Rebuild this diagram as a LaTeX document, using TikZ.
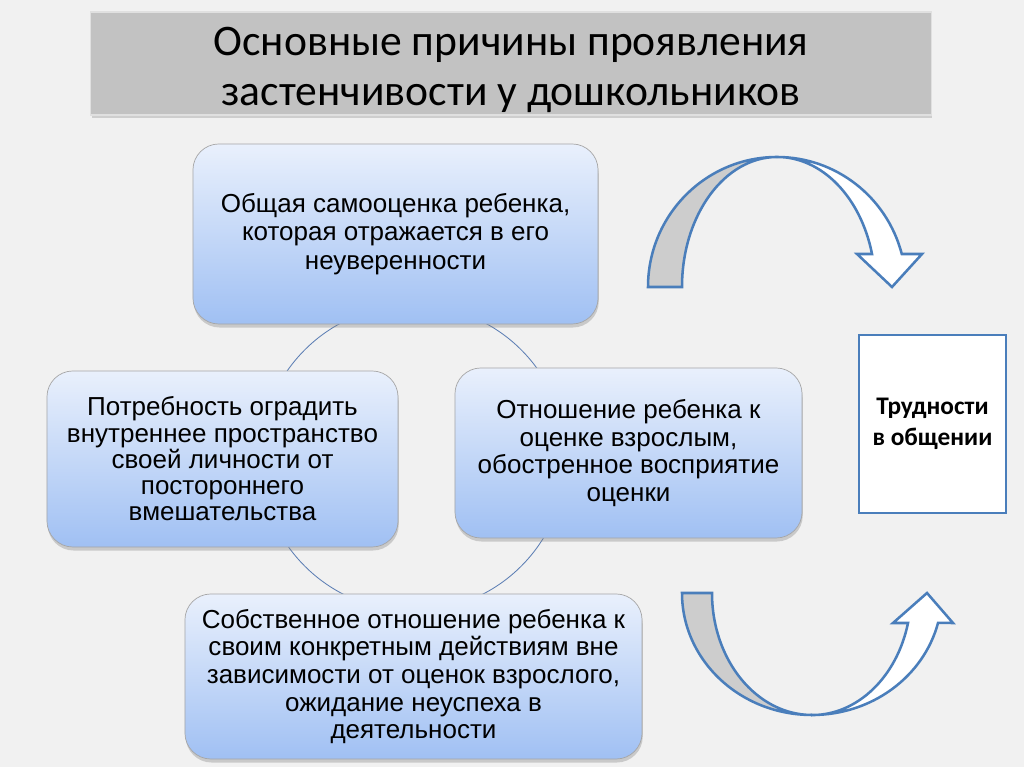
\documentclass[tikz,border=0pt]{standalone}
\usepackage{fontspec}
\setmainfont{Liberation Sans}
\newfontfamily\titlefont{Carlito}
\usepackage{xcolor}
\usepackage{tikz}
\usetikzlibrary{shadows}

\definecolor{slidebg}{RGB}{241,241,241}
\definecolor{barfill}{RGB}{194,194,194}
\definecolor{boxtop}{RGB}{233,240,252}
\definecolor{boxbottom}{RGB}{160,192,243}
\definecolor{ringblue}{RGB}{92,126,180}
\definecolor{arrowblue}{RGB}{74,126,187}
\definecolor{arrowgray}{RGB}{205,205,205}

\begin{document}
\begin{tikzpicture}[x=0.025cm,y=0.025cm,
  cause/.style={draw=black!35,line width=0.5pt,rounded corners=0.65cm,top color=boxtop,bottom color=boxbottom,align=center,inner sep=2pt,font=\fontsize{18.5}{19.6}\selectfont,drop shadow={shadow xshift=0.5pt,shadow yshift=-2.5pt,opacity=0.35}},
  titlebar/.style={fill=barfill,draw=black!12,line width=0.8pt,drop shadow={shadow xshift=0.5pt,shadow yshift=-2pt,opacity=0.3}},
  titletext/.style={align=center,font=\titlefont\fontsize{31}{35.5}\selectfont},
  resultbox/.style={draw=arrowblue,line width=1.6pt,fill=white,align=center,font=\titlefont\bfseries\fontsize{18}{22}\selectfont},
  ring/.style={draw=ringblue,line width=0.6pt},
  bendarrow/.style={draw=arrowblue,line width=1.8pt,line join=miter}]
  % background
  \fill[slidebg] (0,0) rectangle (1024,767);
  \node[titlebar,minimum width=21cm,minimum height=2.575cm] (title) at (511,703.5) {};
  \node[titletext] (titletxt) at (511,697) {Основные причины проявления\\застенчивости у дошкольников};
  % ring behind the four causes
  \coordinate (ringc) at (413,309);
  \draw[ring] (ringc) circle[radius=153];
  \node[cause,minimum width=10.125cm,minimum height=4.5cm,font=\fontsize{18.5}{20.3}\selectfont] (selfview) at (395.5,533) {Общая самооценка ребенка,\\которая отражается в его\\неуверенности};
  \node[cause,minimum width=8.775cm,minimum height=4.4cm,font=\fontsize{18.5}{18.7}\selectfont] (privacy) at (222.5,308) {Потребность оградить\\внутреннее пространство\\своей личности от\\постороннего\\вмешательства};
  \node[cause,minimum width=8.675cm,minimum height=4.25cm] (adultview) at (628.5,314) {Отношение ребенка к\\оценке взрослым,\\обостренное восприятие\\оценки};
  \node[cause,minimum width=11.425cm,minimum height=4.125cm] (ownacts) at (413.5,90.5) {Собственное отношение ребенка к\\своим конкретным действиям вне\\зависимости от оценок взрослого,\\ожидание неуспеха в\\деятельности};
  \node[resultbox,minimum width=3.675cm,minimum height=4.45cm] (result) at (932.5,343) {Трудности\\в общении};
  % upper bent arrow
  \draw[bendarrow,fill=arrowgray] (648,480) arc[start angle=180,end angle=90,x radius=129,y radius=130] arc[start angle=90,end angle=180,x radius=95,y radius=130] -- cycle;
  \draw[bendarrow,fill=white] (777,610) arc[start angle=90,end angle=14.7,x radius=129,y radius=130] -- (922,513) -- (892,480) -- (857,513) -- (872,513) arc[start angle=14.7,end angle=90,x radius=98,y radius=130] -- cycle;
  % lower bent arrow
  \draw[bendarrow,fill=arrowgray] (682,174) arc[start angle=180,end angle=270,x radius=130,y radius=122] arc[start angle=270,end angle=180,x radius=100,y radius=122] -- cycle;
  \draw[bendarrow,fill=white] (812,52) arc[start angle=270,end angle=345.8,x radius=130,y radius=122] -- (953,144) -- (927,174) -- (893,144) -- (908,144) arc[start angle=345.8,end angle=270,x radius=99,y radius=122] -- cycle;
\end{tikzpicture}
\end{document}
